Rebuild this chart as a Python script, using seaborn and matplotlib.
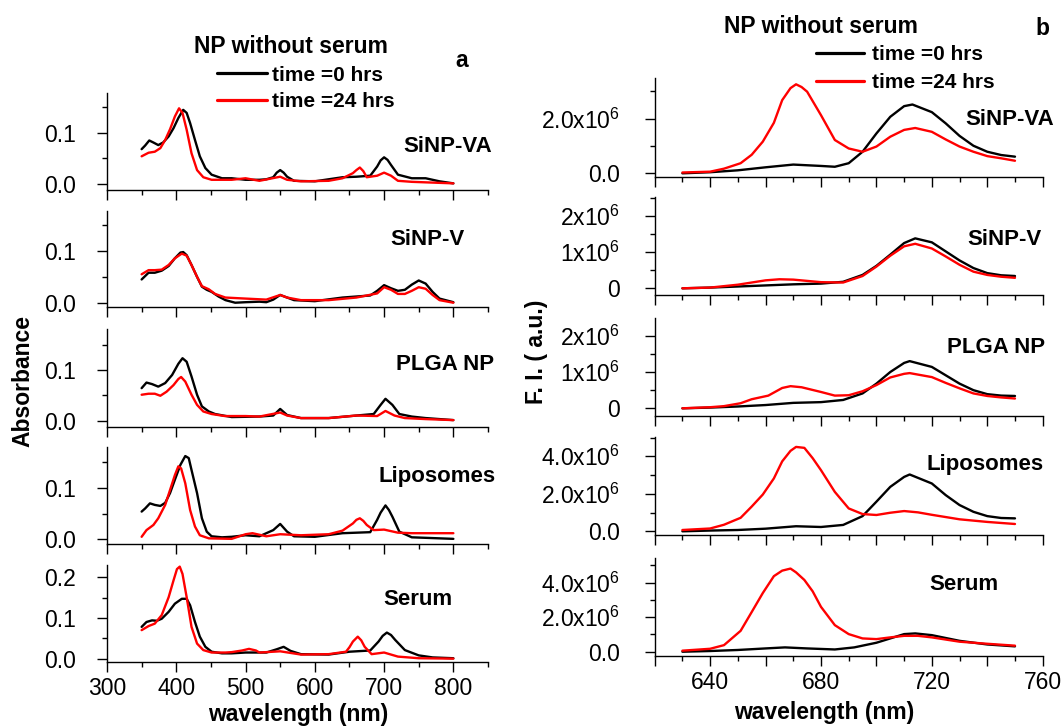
import matplotlib
matplotlib.use("Agg")
import matplotlib.pyplot as plt
import seaborn as sns
import pandas as pd
from matplotlib.lines import Line2D
from matplotlib.ticker import FixedLocator, FixedFormatter, MultipleLocator

# ---------------- data: absorbance (panel a) ----------------
abs_x_va_0 = [350,355,361,367,374,381,389,396,403,410,415,420,427,434,442,451,466,480,500,520,530,540,545,550,555,560,570,600,640,660,680,690,695,700,705,710,720,740,760,780,800]
abs_y_va_0 = [0.068,0.075,0.085,0.081,0.076,0.081,0.093,0.109,0.129,0.145,0.139,0.119,0.086,0.054,0.031,0.018,0.011,0.011,0.008,0.008,0.009,0.013,0.022,0.027,0.022,0.014,0.006,0.005,0.013,0.014,0.016,0.034,0.046,0.052,0.047,0.037,0.018,0.011,0.011,0.005,0.001]
abs_x_va_24 = [350,360,369,377,384,391,398,404,409,415,422,430,439,451,460,480,500,520,550,560,580,620,640,655,660,665,670,675,690,700,710,720,740,800]
abs_y_va_24 = [0.054,0.061,0.063,0.070,0.086,0.107,0.132,0.148,0.139,0.106,0.060,0.027,0.013,0.008,0.008,0.008,0.011,0.006,0.014,0.008,0.005,0.006,0.011,0.021,0.027,0.032,0.025,0.013,0.016,0.022,0.016,0.006,0.004,0.001]

abs_x_v_0 = [350,360,369,379,389,398,406,410,415,422,430,437,444,451,461,471,485,500,520,530,540,550,560,570,600,640,680,690,700,710,720,730,740,750,760,770,780,800]
abs_y_v_0 = [0.045,0.058,0.058,0.062,0.071,0.086,0.097,0.098,0.092,0.073,0.050,0.031,0.025,0.021,0.012,0.005,0.000,0.001,0.002,0.001,0.006,0.015,0.010,0.005,0.003,0.010,0.014,0.023,0.034,0.028,0.023,0.025,0.035,0.043,0.037,0.021,0.008,0.001]
abs_x_v_24 = [350,360,369,379,389,398,408,415,422,430,437,447,456,471,500,530,550,560,580,620,660,690,700,710,720,730,740,750,760,770,780,800]
abs_y_v_24 = [0.055,0.063,0.063,0.064,0.073,0.086,0.095,0.091,0.073,0.050,0.032,0.026,0.017,0.010,0.008,0.006,0.015,0.010,0.005,0.005,0.010,0.018,0.030,0.025,0.017,0.017,0.023,0.030,0.027,0.015,0.005,0.000]

abs_x_plga_0 = [350,357,365,374,384,394,403,409,415,422,430,437,447,456,480,520,540,550,560,580,620,660,685,695,702,712,722,740,760,800]
abs_y_plga_0 = [0.064,0.075,0.072,0.067,0.074,0.090,0.112,0.123,0.116,0.087,0.051,0.028,0.018,0.013,0.007,0.008,0.010,0.023,0.011,0.005,0.005,0.010,0.013,0.031,0.043,0.031,0.013,0.008,0.005,0.001]
abs_x_plga_24 = [350,360,369,377,386,396,403,407,413,422,430,439,451,470,500,520,550,560,580,620,660,690,702,715,730,760,800]
abs_y_plga_24 = [0.051,0.053,0.053,0.049,0.057,0.070,0.082,0.086,0.077,0.051,0.031,0.018,0.013,0.009,0.009,0.008,0.016,0.010,0.005,0.005,0.010,0.009,0.019,0.010,0.005,0.003,0.001]

abs_x_lipo_0 = [350,355,362,369,377,384,391,398,406,413,418,422,430,437,444,451,466,480,500,520,540,550,560,570,600,640,680,690,695,702,707,712,722,740,800]
abs_y_lipo_0 = [0.054,0.060,0.070,0.067,0.065,0.071,0.090,0.116,0.145,0.162,0.158,0.135,0.090,0.041,0.015,0.006,0.004,0.005,0.008,0.006,0.018,0.030,0.015,0.006,0.005,0.012,0.014,0.038,0.052,0.066,0.057,0.044,0.015,0.004,0.001]
abs_x_lipo_24 = [350,357,367,374,384,391,398,403,407,413,420,427,434,447,480,500,510,530,550,580,620,640,655,660,665,670,675,685,700,720,740,800]
abs_y_lipo_24 = [0.005,0.018,0.028,0.041,0.067,0.096,0.125,0.142,0.138,0.109,0.057,0.025,0.008,0.002,0.001,0.010,0.012,0.006,0.010,0.008,0.010,0.017,0.031,0.038,0.041,0.036,0.028,0.018,0.019,0.013,0.012,0.012]

abs_x_serum_0 = [350,357,365,372,379,389,398,408,415,420,427,434,442,451,466,480,500,530,545,555,565,580,620,650,680,692,698,704,710,716,730,750,770,800]
abs_y_serum_0 = [0.078,0.090,0.094,0.093,0.098,0.115,0.135,0.147,0.147,0.131,0.090,0.054,0.029,0.017,0.013,0.013,0.015,0.015,0.023,0.029,0.019,0.011,0.010,0.017,0.020,0.042,0.056,0.064,0.058,0.046,0.021,0.008,0.003,0.001]
abs_x_serum_24 = [350,360,369,379,389,396,401,405,409,415,422,430,439,451,471,480,495,505,515,520,550,580,620,645,650,655,662,667,672,682,700,720,750,800]
abs_y_serum_24 = [0.070,0.080,0.086,0.107,0.151,0.192,0.220,0.226,0.208,0.151,0.078,0.037,0.021,0.015,0.015,0.016,0.020,0.024,0.020,0.015,0.018,0.010,0.011,0.017,0.028,0.042,0.054,0.045,0.029,0.011,0.015,0.005,0.001,0.000]

# ---------------- data: fluorescence intensity (panel b), units of 1e6 ----------------
fi_x_va_0 = [630,640,650,660,670,680,685,690,695,700,705,710,713,720,725,730,735,740,745,750]
fi_y_va_0 = [0.00,0.04,0.11,0.22,0.32,0.27,0.24,0.37,0.79,1.46,2.07,2.46,2.52,2.24,1.83,1.37,1.01,0.79,0.67,0.61]
fi_x_va_24 = [630,640,645,651,655,659,663,666,669,671,673,675,680,685,690,695,700,705,710,714,720,725,730,735,740,745,750]
fi_y_va_24 = [0.03,0.06,0.17,0.37,0.68,1.16,1.85,2.68,3.12,3.26,3.16,2.99,2.13,1.22,0.91,0.79,0.98,1.34,1.59,1.66,1.52,1.24,0.98,0.79,0.63,0.55,0.46]

fi_x_v_0 = [630,640,650,660,670,680,688,695,700,705,710,714,720,725,730,735,740,745,750]
fi_y_v_0 = [0.00,0.02,0.05,0.08,0.11,0.13,0.18,0.37,0.62,0.93,1.25,1.38,1.27,1.02,0.77,0.56,0.42,0.36,0.34]
fi_x_v_24 = [630,640,650,660,665,670,680,688,695,700,705,710,714,720,725,730,735,740,745,750]
fi_y_v_24 = [0.00,0.02,0.10,0.22,0.25,0.24,0.17,0.16,0.34,0.60,0.90,1.16,1.23,1.10,0.88,0.65,0.46,0.37,0.32,0.29]

fi_x_plga_0 = [630,640,650,660,670,680,688,695,700,705,710,712,720,725,730,735,740,745,750]
fi_y_plga_0 = [0.00,0.02,0.05,0.09,0.15,0.17,0.23,0.41,0.68,1.00,1.25,1.30,1.14,0.91,0.68,0.50,0.39,0.35,0.34]
fi_x_plga_24 = [630,640,645,651,655,661,666,669,673,680,685,690,695,700,705,710,712,720,725,730,735,740,745,750]
fi_y_plga_24 = [0.00,0.03,0.06,0.14,0.25,0.35,0.56,0.61,0.58,0.45,0.35,0.36,0.47,0.64,0.85,0.95,0.97,0.86,0.70,0.55,0.41,0.34,0.30,0.27]

fi_x_lipo_0 = [630,640,650,660,671,680,688,695,700,705,710,712,720,725,730,735,740,745,750]
fi_y_lipo_0 = [0.00,0.04,0.07,0.14,0.27,0.23,0.34,0.81,1.58,2.37,2.90,3.03,2.55,1.93,1.40,1.04,0.81,0.71,0.69]
fi_x_lipo_24 = [630,640,645,651,655,659,663,666,669,671,674,677,680,685,690,695,700,705,710,715,720,730,740,750]
fi_y_lipo_24 = [0.07,0.15,0.35,0.72,1.32,1.96,2.82,3.73,4.29,4.50,4.45,3.90,3.26,2.10,1.22,0.92,0.87,0.99,1.08,1.01,0.88,0.64,0.50,0.39]

fi_x_serum_0 = [630,640,650,660,667,675,685,692,700,705,710,714,720,730,740,750]
fi_y_serum_0 = [0.00,0.04,0.10,0.19,0.25,0.19,0.13,0.25,0.52,0.77,1.02,1.06,0.96,0.63,0.42,0.31]
fi_x_serum_24 = [630,640,645,651,655,659,663,666,669,671,674,677,680,685,690,695,700,705,710,715,720,730,740,750]
fi_y_serum_24 = [0.06,0.17,0.38,1.21,2.30,3.40,4.38,4.70,4.82,4.60,4.16,3.50,2.60,1.54,1.02,0.77,0.73,0.83,0.92,0.92,0.83,0.58,0.46,0.35]

sample_names = ["SiNP-VA", "SiNP-V", "PLGA NP", "Liposomes", "Serum"]
time_levels = ["time =0 hrs", "time =24 hrs"]
line_colors = ["black", "red"]

abs_series = [
    (abs_x_va_0, abs_y_va_0, abs_x_va_24, abs_y_va_24),
    (abs_x_v_0, abs_y_v_0, abs_x_v_24, abs_y_v_24),
    (abs_x_plga_0, abs_y_plga_0, abs_x_plga_24, abs_y_plga_24),
    (abs_x_lipo_0, abs_y_lipo_0, abs_x_lipo_24, abs_y_lipo_24),
    (abs_x_serum_0, abs_y_serum_0, abs_x_serum_24, abs_y_serum_24),
]
fi_series = [
    (fi_x_va_0, fi_y_va_0, fi_x_va_24, fi_y_va_24),
    (fi_x_v_0, fi_y_v_0, fi_x_v_24, fi_y_v_24),
    (fi_x_plga_0, fi_y_plga_0, fi_x_plga_24, fi_y_plga_24),
    (fi_x_lipo_0, fi_y_lipo_0, fi_x_lipo_24, fi_y_lipo_24),
    (fi_x_serum_0, fi_y_serum_0, fi_x_serum_24, fi_y_serum_24),
]

# tick values / labels
abs_yticks = [[0.0, 0.1]] * 4 + [[0.0, 0.1, 0.2]]
abs_ylabels = [["0.0", "0.1"]] * 4 + [["0.0", "0.1", "0.2"]]
fi_yticks = [[0, 2], [0, 1, 2], [0, 1, 2], [0, 2, 4], [0, 2, 4]]
fi_ylabels = [
    ["0.0", r"2.0x10$^{6}$"],
    ["0", r"1x10$^{6}$", r"2x10$^{6}$"],
    ["0", r"1x10$^{6}$", r"2x10$^{6}$"],
    ["0.0", r"2.0x10$^{6}$", r"4.0x10$^{6}$"],
    ["0.0", r"2.0x10$^{6}$", r"4.0x10$^{6}$"],
]
fi_yminor = [1, 0.5, 0.5, 1, 1]
abs_xticks = [300, 400, 500, 600, 700, 800]
abs_xlabels = ["300", "400", "500", "600", "700", "800"]
fi_xticks = [620, 640, 660, 680, 700, 720, 740, 760]
fi_xlabels = ["", "640", "", "680", "", "720", "", "760"]

# ---------------- style ----------------
sns.set_style("ticks")
plt.rcParams['font.family'] = ['Liberation Sans', 'DejaVu Sans']
plt.rcParams['mathtext.fontset'] = 'custom'
plt.rcParams['mathtext.rm'] = 'Liberation Sans'
plt.rcParams['mathtext.it'] = 'Liberation Sans:italic'
plt.rcParams['mathtext.bf'] = 'Liberation Sans:bold'
for key in ('text.color', 'axes.labelcolor', 'xtick.color', 'ytick.color', 'axes.edgecolor'):
    plt.rcParams[key] = 'black'

W, H = 1064, 727
fig = plt.figure(figsize=(W / 100, H / 100), dpi=100)
fig.patch.set_facecolor("white")


def box(x0, x1, top, bottom):
    return [x0 / W, 1 - bottom / H, (x1 - x0) / W, (bottom - top) / H]


def draw(ax, s):
    x0, y0, x24, y24 = s
    df = pd.DataFrame({
        "wl": list(x0) + list(x24),
        "val": list(y0) + list(y24),
        "time": [time_levels[0]] * len(x0) + [time_levels[1]] * len(x24),
    })
    sns.lineplot(data=df, x="wl", y="val", hue="time", hue_order=time_levels,
                 palette=line_colors, estimator=None, linewidth=1.7,
                 solid_joinstyle="round", legend=False, ax=ax)
    ax.set_xlabel("")
    ax.set_ylabel("")
    for side in ("top", "right"):
        ax.spines[side].set_visible(False)
    for side in ("left", "bottom"):
        ax.spines[side].set_linewidth(1.0)
        ax.spines[side].set_color("black")
    ax.set_facecolor("white")


left_boxes = [(93, 190), (210.7, 306.7), (329.3, 426.7), (447.3, 544), (565, 662.3)]
left_ylims = [(-0.012, 0.178), (-0.0077, 0.178), (-0.012, 0.18), (-0.009, 0.179), (-0.009, 0.23)]
right_boxes = [(78.3, 177), (197.3, 295.3), (317.7, 415.5), (436.7, 535), (557.7, 655.5)]
right_ylims = [(-0.135, 3.48), (-0.193, 2.514), (-0.198, 2.496), (-0.197, 5.045), (-0.22, 5.45)]

left_label_pos = [(448, 151.7), (427, 245), (445, 370), (437, 481.7), (418, 605)]
right_label_pos = [(1010, 125), (1004, 245), (996, 353.3), (985, 470), (964, 590)]

for i in range(5):
    # ---- panel a ----
    ax = fig.add_axes(box(107, 488, *left_boxes[i]))
    draw(ax, abs_series[i])
    ax.set_xlim(300, 850)
    ax.set_ylim(*left_ylims[i])
    ax.xaxis.set_major_locator(FixedLocator(abs_xticks))
    ax.xaxis.set_major_formatter(FixedFormatter(abs_xlabels))
    ax.xaxis.set_minor_locator(FixedLocator([350, 450, 550, 650, 750, 850]))
    ax.yaxis.set_major_locator(FixedLocator(abs_yticks[i]))
    ax.yaxis.set_major_formatter(FixedFormatter(abs_ylabels[i]))
    ax.yaxis.set_minor_locator(MultipleLocator(0.05))
    ax.tick_params(which="major", direction="out", length=7, width=1, labelsize=16.5, colors="black")
    ax.tick_params(which="minor", direction="out", length=3.5, width=1, colors="black")
    ax.tick_params(axis="y", which="major", pad=15.5)
    ax.tick_params(axis="x", which="major", pad=3.5, labelbottom=(i == 4))
    lx, ly = left_label_pos[i]
    fig.text(lx / W, 1 - ly / H, sample_names[i], ha="center", va="baseline",
             fontsize=16, fontweight="bold")

    # ---- panel b ----
    ax = fig.add_axes(box(654.7, 1042.7, *right_boxes[i]))
    draw(ax, fi_series[i])
    ax.set_xlim(620, 760)
    ax.set_ylim(*right_ylims[i])
    ax.xaxis.set_major_locator(FixedLocator(fi_xticks))
    ax.xaxis.set_major_formatter(FixedFormatter(fi_xlabels))
    ax.xaxis.set_minor_locator(FixedLocator([630, 650, 670, 690, 710, 730, 750]))
    ax.yaxis.set_major_locator(FixedLocator(fi_yticks[i]))
    ax.yaxis.set_major_formatter(FixedFormatter(fi_ylabels[i]))
    ax.yaxis.set_minor_locator(MultipleLocator(fi_yminor[i]))
    ax.tick_params(which="major", direction="out", length=7, width=1, labelsize=16.5, colors="black")
    ax.tick_params(which="minor", direction="out", length=3.5, width=1, colors="black")
    ax.tick_params(axis="y", which="major", pad=18)
    ax.tick_params(axis="x", which="major", pad=4.5, labelbottom=(i == 4))
    rx, ry = right_label_pos[i]
    fig.text(rx / W, 1 - ry / H, sample_names[i], ha="center", va="baseline",
             fontsize=16, fontweight="bold")

# ---------------- titles, legends, axis labels ----------------
fig.text(291 / W, 1 - 53.3 / H, "NP without serum", ha="center", va="baseline", fontsize=16.5, fontweight="bold")
fig.text(820.7 / W, 1 - 33.3 / H, "NP without serum", ha="center", va="baseline", fontsize=16.5, fontweight="bold")
fig.text(462 / W, 1 - 66.7 / H, "a", ha="center", va="baseline", fontsize=16.5, fontweight="bold")
fig.text(1042.5 / W, 1 - 35 / H, "b", ha="center", va="baseline", fontsize=16.5, fontweight="bold")


def legend_entry(x0, x1, y_line, x_text, y_base, label, color):
    fig.add_artist(Line2D([x0 / W, x1 / W], [1 - y_line / H] * 2, color=color, lw=2.3,
                          transform=fig.transFigure))
    fig.text(x_text / W, 1 - y_base / H, label, ha="left", va="baseline",
             fontsize=15, fontweight="bold")


legend_entry(217, 267, 72.7, 271.7, 81, time_levels[0], line_colors[0])
legend_entry(217, 267, 100, 271.7, 107.3, time_levels[1], line_colors[1])
legend_entry(816, 864, 53.3, 871.7, 60, time_levels[0], line_colors[0])
legend_entry(816, 864, 81, 871.7, 88.3, time_levels[1], line_colors[1])

fig.text(22.5 / W, 1 - 381 / H, "Absorbance", rotation=90, ha="center", va="center",
         fontsize=16.5, fontweight="bold")
fig.text(537 / W, 1 - 352 / H, "F. I. ( a.u.)", rotation=90, ha="center", va="center",
         fontsize=16.5, fontweight="bold")
fig.text(298 / W, 1 - 721.5 / H, "wavelength (nm)", ha="center", va="baseline",
         fontsize=16.5, fontweight="bold")
fig.text(824 / W, 1 - 719 / H, "wavelength (nm)", ha="center", va="baseline",
         fontsize=16.5, fontweight="bold")

fig.savefig("out.png", dpi=100, facecolor="white")
